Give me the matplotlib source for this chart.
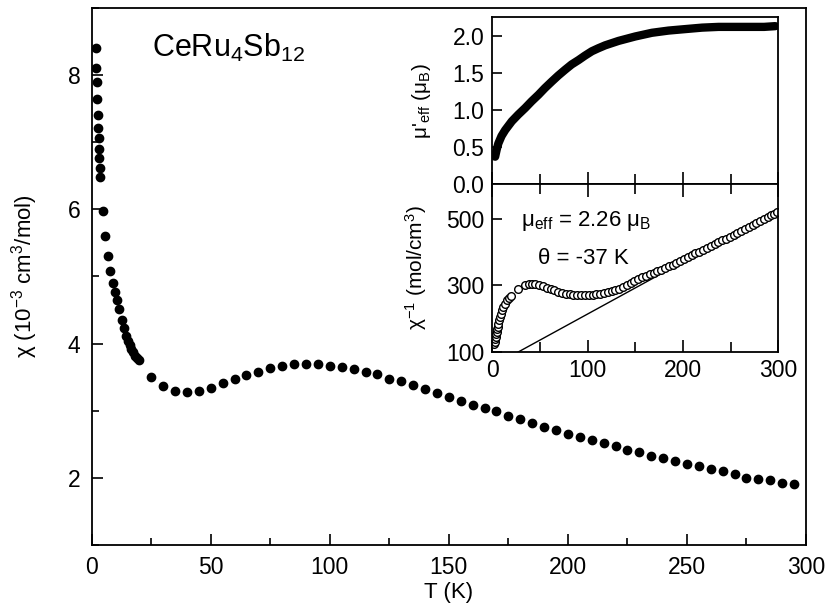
import matplotlib
matplotlib.use('Agg')
import matplotlib.pyplot as plt
from matplotlib.ticker import MultipleLocator

plt.rcParams['font.family'] = ['Liberation Sans', 'DejaVu Sans']
plt.rcParams['mathtext.fontset'] = 'custom'
plt.rcParams['mathtext.rm'] = 'Liberation Sans'
plt.rcParams['mathtext.it'] = 'Liberation Sans:italic'

# main panel: chi(T)
T_chi = [1.7, 2.0, 2.2, 2.4, 2.7, 2.8, 2.9, 3.1, 3.2, 3.4, 3.5,
         4.8, 5.8, 6.7, 7.7, 8.8, 9.8, 10.6, 11.6, 12.7, 13.7, 14.6,
         15.3, 16.0, 16.7, 17.4, 18.1, 18.9, 19.7,
         25, 30, 35, 40, 45, 50, 55, 60, 65, 70, 75, 80, 85, 90, 95,
         100, 105, 110, 115, 120, 125, 130, 135, 140, 145, 150, 155,
         160, 165, 170, 175, 180, 185, 190, 195, 200, 205, 210, 215,
         220, 225, 230, 235, 240, 245, 250, 255, 260, 265, 270, 275,
         280, 285, 290, 295]
chi = [8.41, 8.11, 7.89, 7.64, 7.40, 7.21, 7.06, 6.90, 6.76, 6.62, 6.48,
       5.97, 5.60, 5.30, 5.08, 4.91, 4.77, 4.65, 4.51, 4.35, 4.23, 4.12,
       4.04, 3.98, 3.92, 3.87, 3.82, 3.78, 3.75,
       3.51, 3.37, 3.30, 3.28, 3.30, 3.34, 3.41, 3.47, 3.53, 3.58, 3.63,
       3.66, 3.69, 3.69, 3.69, 3.67, 3.65, 3.62, 3.58, 3.54, 3.48, 3.44,
       3.38, 3.33, 3.27, 3.21, 3.15, 3.09, 3.04, 2.99, 2.92, 2.87, 2.82,
       2.76, 2.72, 2.66, 2.61, 2.56, 2.52, 2.47, 2.41, 2.38, 2.33, 2.29,
       2.25, 2.21, 2.17, 2.13, 2.10, 2.06, 2.00, 1.99, 1.97, 1.93, 1.91]

# inset top: mu'_eff(T)
T_mu = [2.8, 4.5, 6.2, 9.5, 13.3, 20.3, 27, 34.3, 41, 48.3, 55, 62.3, 69,
        76.3, 83, 90.3, 97, 104.3, 111, 118.3, 132.3, 149.8, 167.3, 184.7,
        202.2, 220, 237.2, 255, 272.2, 285, 296.7]
mu_eff = [0.37, 0.47, 0.55, 0.65, 0.73, 0.85, 0.94, 1.03, 1.12, 1.21, 1.30,
          1.39, 1.47, 1.55, 1.62, 1.68, 1.74, 1.80, 1.84, 1.88, 1.94, 2.00,
          2.05, 2.08, 2.10, 2.12, 2.13, 2.13, 2.13, 2.13, 2.14]

# inset bottom: 1/chi(T), open circles, and Curie-Weiss line
T_inv = [2.0, 2.5, 3.0, 3.5, 4.0, 4.5, 5.0, 5.6, 6.3, 7.0, 8.0, 9.0, 10.0,
         11.5, 13, 15, 17, 19.5, 27, 34, 38, 41, 45, 49, 53, 57, 61, 65,
         69, 73, 77, 81, 85, 89, 93, 97, 101, 105, 109, 113, 117, 121,
         125, 129, 133, 137, 141, 145, 149, 153, 157, 161, 165, 169, 173,
         177, 181, 185, 189, 193, 197, 201, 205, 209, 213, 217, 221, 225,
         229, 233, 237, 241, 245, 249, 253, 257, 261, 265, 269, 273, 277,
         281, 285, 289, 292, 295, 298]
chi_inv = [123, 130, 138, 145, 153, 160, 168, 175, 185, 195, 205, 215, 225,
           235, 245, 255, 262, 268, 290, 302, 304, 305, 303, 300, 297, 293,
           289, 285, 281, 278, 275, 273, 271, 270, 270, 270, 270, 272, 273,
           275, 277, 280, 283, 286, 290, 295, 300, 306, 312, 318, 324, 328,
           333, 337, 342, 347, 352, 357, 362, 367, 373, 379, 385, 391, 397,
           402, 407, 413, 418, 424, 430, 436, 441, 447, 453, 459, 464, 470,
           476, 481, 487, 494, 500, 506, 511, 516, 522]
T_fit = [27, 300]
inv_fit = [100, 528]

fig = plt.figure(figsize=(8.26, 6.09), dpi=100)
ax = fig.add_axes([0.111, 0.1051, 0.8648, 0.8818])
ax.plot(T_chi, chi, 'o', color='black', ms=6)
ax.set_xlim(0, 300)
ax.set_ylim(1, 9)
ax.xaxis.set_major_locator(MultipleLocator(50))
ax.xaxis.set_minor_locator(MultipleLocator(25))
ax.yaxis.set_major_locator(MultipleLocator(2))
ax.yaxis.set_minor_locator(MultipleLocator(1))
ax.tick_params(which='both', direction='in', labelsize=16.5, width=1.2)
ax.tick_params(which='major', length=8, pad=8)
ax.tick_params(which='minor', length=5)
for s in ax.spines.values():
    s.set_linewidth(1.3)
ax.set_xlabel('T (K)', fontsize=16, labelpad=2)
ax.set_ylabel('χ (10$^{-3}$ cm$^3$/mol)', fontsize=16, labelpad=20)
ax.text(25.5, 8.4, 'CeRu$_4$Sb$_{12}$', fontsize=22, va='center')

# inset, top panel
ax1 = fig.add_axes([0.5962, 0.6979, 0.3462, 0.2737])
ax1.plot(T_mu, mu_eff, '-', color='black', lw=6, solid_capstyle='round')
ax1.set_xlim(0, 300)
ax1.set_ylim(0, 2.26)
ax1.xaxis.set_major_locator(MultipleLocator(100))
ax1.xaxis.set_minor_locator(MultipleLocator(50))
ax1.yaxis.set_major_locator(MultipleLocator(0.5))
ax1.yaxis.set_major_formatter('{x:.1f}')
ax1.tick_params(which='both', direction='in', labelsize=16.5, width=1.2)
ax1.tick_params(axis='x', which='major', length=9, labelbottom=False)
ax1.tick_params(axis='x', which='minor', length=7)
ax1.tick_params(axis='y', length=7, pad=6)
ax1.set_ylabel("μ'$_{\\mathrm{eff}}$ (μ$_{\\mathrm{B}}$)", fontsize=15, labelpad=14)

# inset, bottom panel
ax2 = fig.add_axes([0.5962, 0.4220, 0.3462, 0.2759])
ax2.plot(T_fit, inv_fit, '-', color='black', lw=1)
ax2.plot(T_inv, chi_inv, 'o', mfc='white', mec='black', ms=5.5, mew=1)
ax2.set_xlim(0, 300)
ax2.set_ylim(100, 605)
ax2.xaxis.set_major_locator(MultipleLocator(100))
ax2.xaxis.set_minor_locator(MultipleLocator(50))
ax2.set_yticks([100, 300, 500])
ax2.tick_params(which='both', direction='in', labelsize=16.5, width=1.2,
                top=True)
ax2.tick_params(axis='x', which='major', length=9, pad=5)
ax2.tick_params(axis='x', which='minor', length=7)
ax2.tick_params(axis='y', length=7, pad=6)
ax2.set_ylabel('χ$^{-1}$ (mol/cm$^3$)', fontsize=15, labelpad=12)
ax2.text(30, 495, 'μ$_{\\mathrm{eff}}$ = 2.26 μ$_{\\mathrm{B}}$', fontsize=16, va='center')
ax2.text(48, 381, 'θ = -37 K', fontsize=16, va='center')
for a in (ax1, ax2):
    for s in a.spines.values():
        s.set_linewidth(1.3)

fig.savefig('out.png', dpi=100)
